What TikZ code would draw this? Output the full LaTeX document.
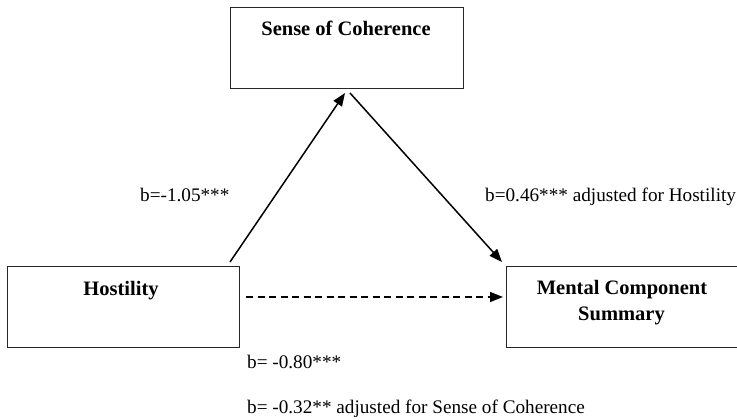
\documentclass[tikz,border=0pt]{standalone}
\usepackage{fontspec}
\setmainfont{Liberation Serif}
\usetikzlibrary{arrows.meta}
\begin{document}
\begin{tikzpicture}[x=1pt,y=-1pt,
  box/.style={draw=black!85, line width=0.9pt, rectangle, inner sep=0pt, outer sep=0pt, minimum width=232pt, minimum height=81pt},
  lbl/.style={font=\fontsize{19.2}{23}\selectfont, inner sep=0pt, anchor=base west},
  ttl/.style={font=\fontsize{20.5}{26}\selectfont\bfseries, inner sep=0pt, anchor=base},
  arr/.style={line width=1.5pt, -{Triangle[length=13pt,width=10pt]}}]
\useasboundingbox (0,0) rectangle (737,420);
% boxes
\node[box, minimum width=233pt] (soc) at (346.5,47.5) {};
\node[box] (hos) at (123,306.5) {};
\node[box, minimum width=236pt] (mcs) at (624,306.5) {};
% titles
\node[ttl] (soct) at (346,36) {Sense of Coherence};
\node[ttl] (host) at (121,295) {Hostility};
\node[ttl] (mcst1) at (622,294) {Mental Component};
\node[ttl] (mcst2) at (621.5,320) {Summary};
% connectors
\draw[arr] ([xshift=-9pt,yshift=4pt]hos.north east) -- ([xshift=-1.5pt,yshift=-5pt]soc.south);
\draw[arr] ([xshift=3.5pt,yshift=-5pt]soc.south) -- ([xshift=-4pt,yshift=4pt]mcs.north west);
\draw[arr, dash pattern=on 7pt off 4.5pt] ([xshift=7pt,yshift=9.5pt]hos.east) -- ([xshift=-3pt,yshift=9.5pt]mcs.west);
% labels
\node[lbl] (l1) at (140,201) {b=-1.05***};
\node[lbl] (l2) at (485,201) {b=0.46*** adjusted for Hostility};
\node[lbl] (l3) at (247,368) {b= -0.80***};
\node[lbl] (l4) at (247,413) {b= -0.32** adjusted for Sense of Coherence};
\end{tikzpicture}
\end{document}
